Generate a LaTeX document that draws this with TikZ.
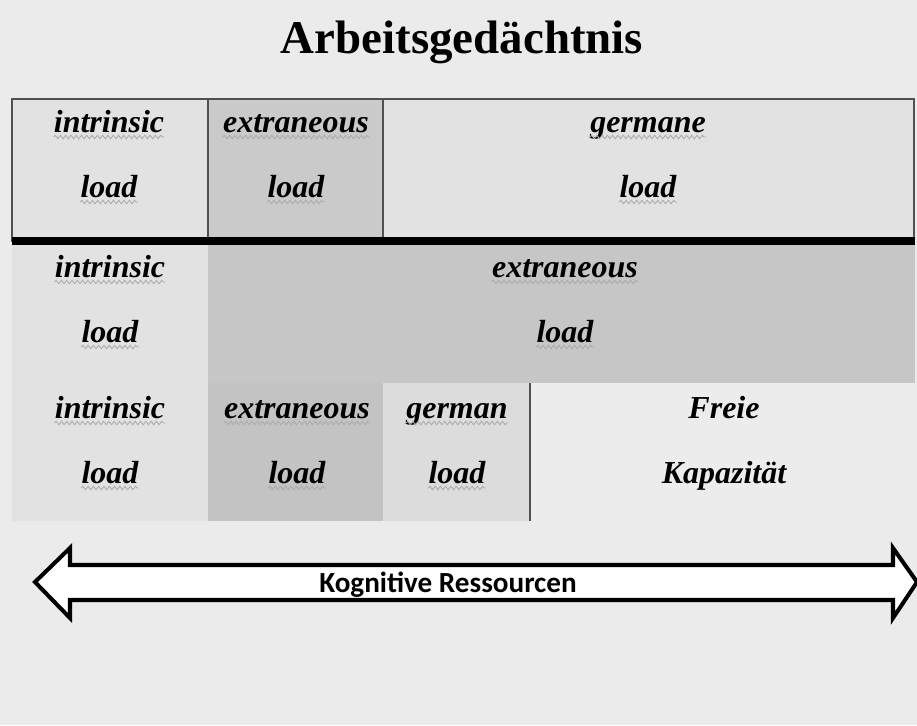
\documentclass[tikz,border=0pt]{standalone}
\usepackage{fontspec}
\setmainfont{Liberation Serif}
\newfontfamily\pfeilfont{Carlito}
\usetikzlibrary{positioning, calc, decorations.pathmorphing}
\definecolor{hintergrund}{HTML}{EBEBEB}
\definecolor{hell}{HTML}{E2E2E2}
\definecolor{dunkel}{HTML}{C6C6C6}
\definecolor{dunkelA}{HTML}{CACACA}
\definecolor{dunkelC}{HTML}{C3C3C3}
\definecolor{mittel}{HTML}{DCDCDC}
\definecolor{frei}{HTML}{ECECEC}
\definecolor{rahmen}{HTML}{505050}
\tikzset{
    wort/.style={inner sep=0pt, anchor=base, font=\fontsize{18.2}{20}\selectfont\bfseries\itshape},
    squiggle/.style={draw=gray!65, line width=0.5pt, decorate,
        decoration={snake, amplitude=1pt, segment length=3pt}},
    trennlinie/.style={draw=rahmen, line width=0.7pt}
}

\begin{document}
\begin{tikzpicture}[
    x=0.02cm, y=-0.02cm,
    titel/.style={inner sep=0pt, anchor=base, font=\fontsize{26.7}{30}\selectfont\bfseries},
    pfeil/.style={draw=black, fill=white, line width=2.3pt, line join=miter}
]
    % Background
    \fill[hintergrund] (0,0) rectangle (917,725);
    \useasboundingbox (0,0) rectangle (917,725);

    % Title
    \node[titel] (titel) at (462,53) {Arbeitsgedächtnis};

    % Row 1
    \fill[hell] (12,99) rectangle (208,241);
    \fill[dunkelA] (208,99) rectangle (383,241);
    \fill[hell] (383,99) rectangle (914,241);
    \draw[trennlinie] (12,99) rectangle (914,241);
    \draw[trennlinie] (208,99) -- (208,241);
    \draw[trennlinie] (383,99) -- (383,241);
    \draw[line width=4.5pt] (12,241) -- (915,241);

    % Row 2
    \fill[hell] (12,245) rectangle (208,383);
    \fill[dunkel] (208,245) rectangle (915,383);

    % Row 3
    \fill[hell] (12,383) rectangle (208,521);
    \fill[dunkelC] (208,383) rectangle (383,521);
    \fill[mittel] (383,383) rectangle (530,521);
    \fill[frei] (530,383) rectangle (915,521);
    \draw[trennlinie] (530,383) -- (530,521);

    % Labels
    \node[wort] (ia1) at (109,132) {intrinsic};
    \node[wort] (il1) at (109,197) {load};
    \node[wort] (ea1) at (296,132) {extraneous};
    \node[wort] (el1) at (296,197) {load};
    \node[wort] (ga1) at (648,132) {germane};
    \node[wort] (gl1) at (648,197) {load};

    \node[wort] (ia2) at (110,277) {intrinsic};
    \node[wort] (il2) at (110,342) {load};
    \node[wort] (ea2) at (565,277) {extraneous};
    \node[wort] (el2) at (565,342) {load};

    \node[wort] (ia3) at (110,418) {intrinsic};
    \node[wort] (il3) at (110,483) {load};
    \node[wort] (ea3) at (297,418) {extraneous};
    \node[wort] (el3) at (297,483) {load};
    \node[wort] (ga3) at (457,418) {german};
    \node[wort] (gl3) at (457,483) {load};
    \node[wort] (fa3) at (724,418) {Freie};
    \node[wort] (fl3) at (724,483) {Kapazität};

    % Spelling marks
    \foreach \w in {ia1,il1,ea1,el1,ga1,gl1,ia2,il2,ea2,el2,ia3,il3,ea3,el3,ga3,gl3}
        \draw[squiggle] ($(\w.base west)+(0,5)$) -- ($(\w.base east)+(0,5)$);

    % Resources arrow
    \draw[pfeil] (35,582) -- (70,548) -- (70,565) -- (893,565) -- (893,548)
        -- (917,582) -- (893,618) -- (893,600) -- (70,600) -- (70,618) -- cycle;
    \node[inner sep=0pt, anchor=base, font=\pfeilfont\fontsize{16.6}{18}\selectfont\bfseries]
        (ressourcen) at (448,592) {Kognitive Ressourcen};
\end{tikzpicture}
\end{document}
